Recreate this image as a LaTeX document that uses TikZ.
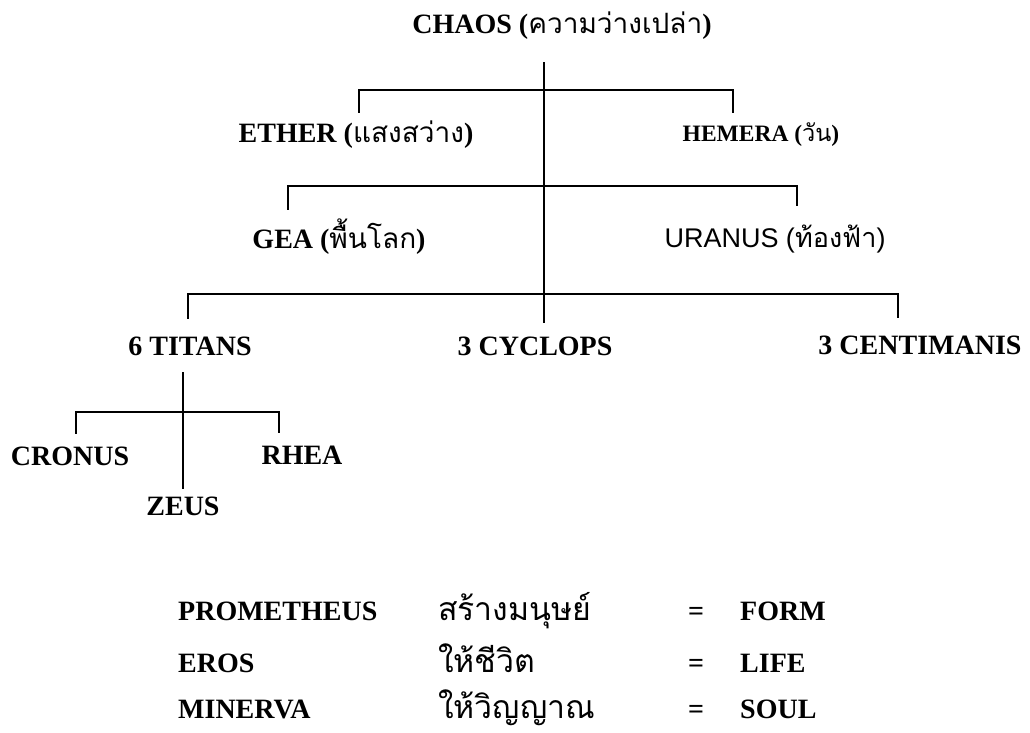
\documentclass[tikz,border=0pt]{standalone}
\usepackage{fontspec}
\setmainfont{Liberation Serif}
\newfontfamily\thai[Script=Thai]{Loma}
\newfontfamily\sansf{Liberation Sans}
\begin{document}
\begin{tikzpicture}[x=1pt,y=-1pt,
  lbl/.style={inner sep=0pt, anchor=base, font=\fontsize{28}{30}\selectfont\bfseries},
  lblw/.style={lbl, anchor=base west},
  thw/.style={lblw, font=\fontsize{32}{34}\selectfont\thai},
  link/.style={line width=1.8pt, line cap=rect}]
\useasboundingbox[fill=white] (0,0) rectangle (1030,732);
% labels
\node[lbl] (chaos) at (562,33) {CHAOS ({\thai\mdseries ความว่างเปล่า})};
\node[lbl] (ether) at (356,142) {ETHER ({\thai\mdseries แสงสว่าง})};
\node[lbl, font=\fontsize{23.5}{26}\selectfont\bfseries] (hemera) at (761,141) {HEMERA ({\thai\mdseries วัน})};
\node[lbl] (gea) at (339,248) {GEA ({\thai\mdseries พื้นโลก})};
\node[lbl, font=\fontsize{27}{30}\selectfont\sansf] (uranus) at (775,247) {URANUS ({\thai ท้องฟ้า})};
\node[lbl] (titans) at (190,355) {6 TITANS};
\node[lbl] (cyclops) at (535,355) {3 CYCLOPS};
\node[lbl] (centi) at (920,354) {3 CENTIMANIS};
\node[lbl] (cronus) at (70,465) {CRONUS};
\node[lbl] (rhea) at (302,464) {RHEA};
\node[lbl] (zeus) at (183,515) {ZEUS};
% table
\node[lblw] (prom) at (178,620) {PROMETHEUS};
\node[lblw] (eros) at (178,672) {EROS};
\node[lblw] (minerva) at (178,718) {MINERVA};
\node[thw] (t1) at (438,620) {สร้างมนุษย์};
\node[thw] (t2) at (438,672) {ให้ชีวิต};
\node[thw] (t3) at (438,718) {ให้วิญญาณ};
\node[lblw] (e1) at (688,620) {=};
\node[lblw] (e2) at (688,672) {=};
\node[lblw] (e3) at (688,718) {=};
\node[lblw] (form) at (740,620) {FORM};
\node[lblw] (life) at (740,672) {LIFE};
\node[lblw] (soul) at (740,718) {SOUL};
% junction coordinates
\coordinate (vtop) at (544,63);
\coordinate (vbot) at (544,322);
\coordinate (b1l) at (359,90);  \coordinate (b1r) at (733,90);
\coordinate (k1l) at (359,112); \coordinate (k1r) at (733,112);
\coordinate (b2l) at (288,186); \coordinate (b2r) at (797,186);
\coordinate (k2l) at (288,209); \coordinate (k2r) at (797,205);
\coordinate (b3l) at (188,294); \coordinate (b3r) at (898,294);
\coordinate (k3l) at (188,318); \coordinate (k3r) at (898,317);
\coordinate (tvtop) at (183,373);
\coordinate (tvbot) at (183,488);
\coordinate (b4l) at (76,412);  \coordinate (b4r) at (279,412);
\coordinate (k4l) at (76,433);  \coordinate (k4r) at (279,432);
% connectors
\draw[link] (vtop) -- (vbot);
\draw[link] (k1l) -- (b1l) -- (b1r) -- (k1r);
\draw[link] (k2l) -- (b2l) -- (b2r) -- (k2r);
\draw[link] (k3l) -- (b3l) -- (b3r) -- (k3r);
\draw[link] (tvtop) -- (tvbot);
\draw[link] (k4l) -- (b4l) -- (b4r) -- (k4r);
\end{tikzpicture}
\end{document}
